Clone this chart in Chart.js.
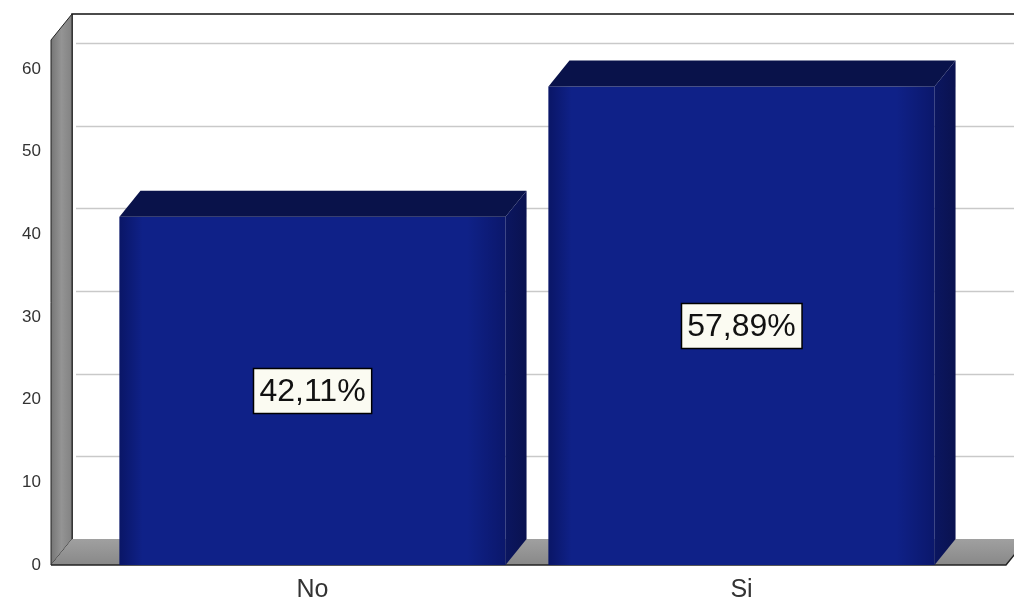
<!DOCTYPE html>
<html>
<head>
    <title>No / Si</title>
    <script src="https://cdn.jsdelivr.net/npm/chart.js"></script>
    <style>
        html, body { margin: 0; padding: 0; background: #fff; }
        #wrap { width: 1014px; height: 601px; }
    </style>
</head>
<body>
<div id="wrap"><canvas id="myChart" width="1014" height="601"></canvas></div>

<script>
    const categories = ['No', 'Si'];
    const percentages = [42.11, 57.89];
    const yTicks = [0, 10, 20, 30, 40, 50, 60];

    // depth of the fake 3d box (x to the right, y upwards)
    const DX = 21;
    const DY = -26;
    const WALL_GAP = 47;
    const FONT = '"Liberation Sans", Arial, sans-serif';

    function fmt(v) {
        return v.toFixed(2).replace('.', ',') + '%';
    }

    const box3d = {
        id: 'box3d',
        beforeDatasetsDraw(chart) {
            const ctx = chart.ctx;
            const a = chart.chartArea;
            const y = chart.scales.y;
            const fl = a.left - WALL_GAP;
            const W = chart.width;

            ctx.save();
            // back wall
            ctx.fillStyle = '#ffffff';
            ctx.fillRect(fl + DX, a.top + DY, W, a.bottom - a.top);

            // grid lines on the back wall
            ctx.strokeStyle = '#c9c9c9';
            ctx.lineWidth = 1.5;
            yTicks.forEach(v => {
                if (v === 0) return;
                const py = Math.round(y.getPixelForValue(v) + DY) + 0.5;
                ctx.beginPath();
                ctx.moveTo(fl + DX + 4, py);
                ctx.lineTo(W, py);
                ctx.stroke();
            });

            ctx.strokeStyle = '#111';
            ctx.lineWidth = 1.5;
            ctx.beginPath();
            ctx.moveTo(W, a.top + DY);
            ctx.lineTo(fl + DX, a.top + DY);
            ctx.lineTo(fl + DX, a.bottom + DY);
            ctx.stroke();

            // left wall
            let g = ctx.createLinearGradient(fl, 0, fl + DX, 0);
            g.addColorStop(0, '#767676');
            g.addColorStop(0.5, '#949494');
            g.addColorStop(1, '#828282');
            ctx.fillStyle = g;
            ctx.beginPath();
            ctx.moveTo(fl, a.top);
            ctx.lineTo(fl + DX, a.top + DY);
            ctx.lineTo(fl + DX, a.bottom + DY);
            ctx.lineTo(fl, a.bottom);
            ctx.closePath();
            ctx.fill();
            ctx.strokeStyle = '#222';
            ctx.lineWidth = 1;
            ctx.stroke();

            // floor
            const fr = W - 8;
            g = ctx.createLinearGradient(0, a.bottom + DY, 0, a.bottom);
            g.addColorStop(0, '#a0a0a0');
            g.addColorStop(1, '#888888');
            ctx.fillStyle = g;
            ctx.beginPath();
            ctx.moveTo(fl, a.bottom);
            ctx.lineTo(fl + DX, a.bottom + DY);
            ctx.lineTo(fr + DX, a.bottom + DY);
            ctx.lineTo(fr, a.bottom);
            ctx.closePath();
            ctx.fill();
            ctx.strokeStyle = '#222';
            ctx.lineWidth = 1.5;
            ctx.beginPath();
            ctx.moveTo(fl, a.bottom);
            ctx.lineTo(fr, a.bottom);
            ctx.lineTo(fr + DX, a.bottom + DY);
            ctx.stroke();
            ctx.restore();
        },
        afterDatasetsDraw(chart) {
            const ctx = chart.ctx;
            const meta = chart.getDatasetMeta(0);
            ctx.save();
            meta.data.forEach((bar, i) => {
                const p = bar.getProps(['x', 'y', 'base', 'width'], true);
                const l = p.x - p.width / 2;
                const r = p.x + p.width / 2;

                // shading on the front face
                let g = ctx.createLinearGradient(l, 0, r, 0);
                g.addColorStop(0, 'rgba(0,0,40,0.35)');
                g.addColorStop(0.06, 'rgba(0,0,40,0.0)');
                g.addColorStop(0.9, 'rgba(0,0,40,0.0)');
                g.addColorStop(1, 'rgba(0,0,40,0.3)');
                ctx.fillStyle = g;
                ctx.fillRect(l, p.y, p.width, p.base - p.y);

                // top face
                ctx.fillStyle = '#09124a';
                ctx.beginPath();
                ctx.moveTo(l, p.y);
                ctx.lineTo(l + DX, p.y + DY);
                ctx.lineTo(r + DX, p.y + DY);
                ctx.lineTo(r, p.y);
                ctx.closePath();
                ctx.fill();

                // right side face
                g = ctx.createLinearGradient(r, 0, r + DX, 0);
                g.addColorStop(0, '#0b1660');
                g.addColorStop(1, '#0a1250');
                ctx.fillStyle = g;
                ctx.beginPath();
                ctx.moveTo(r, p.y);
                ctx.lineTo(r + DX, p.y + DY);
                ctx.lineTo(r + DX, p.base + DY);
                ctx.lineTo(r, p.base);
                ctx.closePath();
                ctx.fill();

                // value label
                const txt = fmt(percentages[i]);
                ctx.font = '32px ' + FONT;
                const tw = ctx.measureText(txt).width;
                const bw = tw + 12;
                const bh = 45;
                const cy = (p.y + p.base) / 2;
                const bx = Math.round(p.x - bw / 2) + 0.5;
                const by = Math.round(cy - bh / 2) + 0.5;
                ctx.fillStyle = '#fbfbf2';
                ctx.fillRect(bx, by, bw, bh);
                ctx.strokeStyle = '#000';
                ctx.lineWidth = 1.5;
                ctx.strokeRect(bx, by, bw, bh);
                ctx.fillStyle = '#111';
                ctx.textAlign = 'center';
                ctx.textBaseline = 'middle';
                ctx.fillText(txt, p.x, cy + 1);
            });
            ctx.restore();
        }
    };

    const ctx = document.getElementById('myChart').getContext('2d');
    window.myChart = new Chart(ctx, {
        type: 'bar',
        data: {
            labels: categories,
            datasets: [{
                data: percentages,
                backgroundColor: '#0f2188',
                borderWidth: 0,
                barPercentage: 0.9,
                categoryPercentage: 1.0
            }]
        },
        plugins: [box3d],
        options: {
            responsive: false,
            animation: false,
            layout: { padding: { top: 40, right: 58, left: 0, bottom: 0 } },
            plugins: {
                legend: { display: false },
                tooltip: { enabled: false }
            },
            scales: {
                x: {
                    grid: { display: false, drawTicks: false },
                    border: { display: false },
                    ticks: {
                        padding: 10,
                        color: '#333',
                        font: { family: FONT, size: 25 }
                    },
                    afterFit: s => { s.height = 36; }
                },
                y: {
                    min: 0,
                    max: 63.5,
                    grid: { display: false, drawTicks: false },
                    border: { display: false },
                    ticks: {
                        stepSize: 10,
                        includeBounds: false,
                        padding: 57,
                        color: '#333',
                        font: { family: FONT, size: 17 }
                    },
                    afterFit: s => {
                        s.width = 98;
                        // the big label padding should not push the plot area down
                        s.paddingTop = 0;
                        s.paddingBottom = 0;
                    }
                }
            }
        }
    });
</script>
</body>
</html>
